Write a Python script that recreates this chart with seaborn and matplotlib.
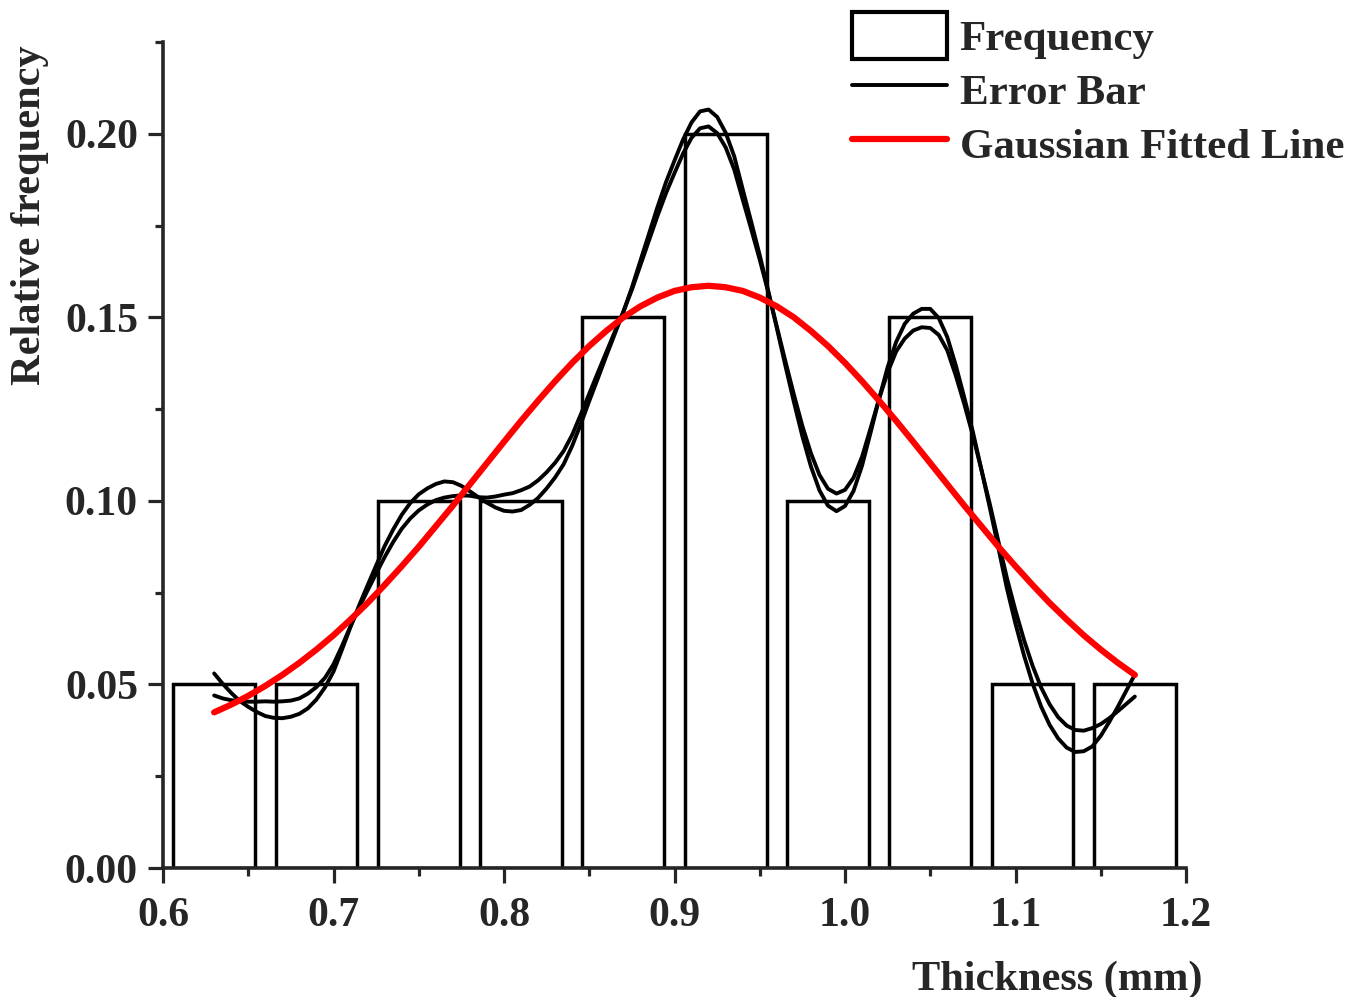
import matplotlib
matplotlib.use("Agg")
import matplotlib.pyplot as plt
import seaborn as sns
import numpy as np

# Histogram of thickness (relative frequency per 0.06 mm bin)
bin_centers = [0.63, 0.69, 0.75, 0.81, 0.87, 0.93, 0.99, 1.05, 1.11, 1.17]
rel_freq = [0.05, 0.05, 0.10, 0.10, 0.15, 0.20, 0.10, 0.15, 0.05, 0.05]

# Smoothed frequency curve, sampled every 0.005 mm from 0.63 to 1.17
fit_x = np.linspace(0.63, 1.17, 109)
fit_mid = [
    0.0500, 0.0482, 0.0467, 0.0455, 0.0446, 0.0439, 0.0434, 0.0431, 0.0431, 0.0434,
    0.0441, 0.0455, 0.0476, 0.0505, 0.0545, 0.0600, 0.0658, 0.0712, 0.0763, 0.0813,
    0.0862, 0.0905, 0.0943, 0.0973, 0.0996, 0.1012, 0.1024, 0.1031, 0.1032, 0.1028,
    0.1020, 0.1010, 0.1002, 0.0997, 0.0995, 0.0996, 0.1002, 0.1014, 0.1032, 0.1056,
    0.1084, 0.1118, 0.1165, 0.1222, 0.1282, 0.1341, 0.1400, 0.1458, 0.1515, 0.1578,
    0.1648, 0.1718, 0.1788, 0.1853, 0.1910, 0.1965, 0.2010, 0.2038, 0.2043, 0.2024,
    0.1983, 0.1921, 0.1835, 0.1750, 0.1663, 0.1570, 0.1473, 0.1375, 0.1280, 0.1190,
    0.1112, 0.1050, 0.1010, 0.0996, 0.1008, 0.1045, 0.1108, 0.1192, 0.1278, 0.1357,
    0.1420, 0.1462, 0.1487, 0.1498, 0.1497, 0.1475, 0.1428, 0.1355, 0.1272, 0.1183,
    0.1085, 0.0985, 0.0880, 0.0775, 0.0683, 0.0600, 0.0527, 0.0466, 0.0418, 0.0382,
    0.0358, 0.0346, 0.0346, 0.0356, 0.0376, 0.0403, 0.0433, 0.0465, 0.0497,
]
# Signed half-spread of the error band around the smoothed curve
fit_dev = [
    0.0030, 0.0020, 0.0010, 0.0000, -0.0007, -0.0014, -0.0020, -0.0022, -0.0023, -0.0022,
    -0.0021, -0.0020, -0.0017, -0.0013, -0.0010, -0.0005, -0.0001, 0.0003, 0.0007, 0.0011,
    0.0015, 0.0017, 0.0019, 0.0021, 0.0022, 0.0022, 0.0022, 0.0022, 0.0019, 0.0013,
    0.0006, 0.0000, -0.0007, -0.0015, -0.0022, -0.0025, -0.0027, -0.0025, -0.0024, -0.0022,
    -0.0020, -0.0018, -0.0015, -0.0013, -0.0010, -0.0008, -0.0005, -0.0003, 0.0000, 0.0003,
    0.0006, 0.0009, 0.0012, 0.0015, 0.0017, 0.0019, 0.0021, 0.0023, 0.0023, 0.0022,
    0.0020, 0.0018, 0.0014, 0.0010, 0.0006, 0.0002, -0.0002, -0.0006, -0.0010, -0.0014,
    -0.0018, -0.0021, -0.0023, -0.0024, -0.0022, -0.0018, -0.0012, -0.0006, 0.0000, 0.0007,
    0.0013, 0.0020, 0.0023, 0.0025, 0.0026, 0.0023, 0.0018, 0.0014, 0.0009, 0.0005,
    0.0000, -0.0005, -0.0009, -0.0014, -0.0018, -0.0021, -0.0024, -0.0026, -0.0028, -0.0029,
    -0.0030, -0.0030, -0.0028, -0.0025, -0.0016, -0.0005, 0.0006, 0.0018, 0.0030,
]

# Gaussian fitted line, sampled every 0.01 mm from 0.63 to 1.17
gauss_x = np.linspace(0.63, 1.17, 55)
gauss_y = [
    0.0424, 0.0445, 0.0469, 0.0496, 0.0526, 0.0559, 0.0595, 0.0634, 0.0677, 0.0722,
    0.0771, 0.0822, 0.0875, 0.0931, 0.0987, 0.1045, 0.1103, 0.1161, 0.1218, 0.1273,
    0.1326, 0.1376, 0.1422, 0.1463, 0.1500, 0.1530, 0.1554, 0.1572, 0.1582, 0.1586,
    0.1582, 0.1572, 0.1554, 0.1530, 0.1500, 0.1463, 0.1422, 0.1376, 0.1326, 0.1273,
    0.1218, 0.1161, 0.1103, 0.1045, 0.0987, 0.0931, 0.0875, 0.0822, 0.0771, 0.0722,
    0.0677, 0.0634, 0.0595, 0.0559, 0.0526,
]

x_ticks = [0.6, 0.7, 0.8, 0.9, 1.0, 1.1, 1.2]
x_tick_labels = ["0.6", "0.7", "0.8", "0.9", "1.0", "1.1", "1.2"]
y_ticks = [0.00, 0.05, 0.10, 0.15, 0.20]
y_tick_labels = ["0.00", "0.05", "0.10", "0.15", "0.20"]

sns.set_style("ticks")
plt.rcParams["font.family"] = ["Liberation Serif", "DejaVu Serif"]
plt.rcParams["font.weight"] = "bold"
plt.rcParams["axes.labelweight"] = "bold"

W, H = 1359, 997
fig = plt.figure(figsize=(W / 100, H / 100), dpi=100)
ax = fig.add_axes([163 / W, 1 - 868 / H, (1186 - 163) / W, (868 - 42) / H])

sns.barplot(x=bin_centers, y=rel_freq, native_scale=True, width=0.8,
            color="white", edgecolor="black", linewidth=2.5, saturation=1,
            errorbar=None, label="Frequency", ax=ax)

mid = np.array(fit_mid)
dev = np.array(fit_dev)
sns.lineplot(x=fit_x, y=mid + dev, color="black", linewidth=2.8, sort=False,
             estimator=None, label="Error Bar", ax=ax)
sns.lineplot(x=fit_x, y=mid - dev, color="black", linewidth=2.8, sort=False,
             estimator=None, legend=False, ax=ax)
sns.lineplot(x=gauss_x, y=gauss_y, color="red", linewidth=4.5, sort=False,
             estimator=None, label="Gaussian Fitted Line", ax=ax)

ax.set_xlim(0.6, 1.2)
ax.set_ylim(0, 0.225)
ax.set_xticks(x_ticks, x_tick_labels)
ax.set_yticks(y_ticks, y_tick_labels)
ax.set_xticks(np.arange(0.65, 1.2, 0.1), minor=True)
ax.set_yticks(np.arange(0.025, 0.226, 0.05), minor=True)

sns.despine(ax=ax)
for side in ("left", "bottom"):
    ax.spines[side].set_linewidth(2.6)
ax.tick_params(which="major", direction="out", length=11, width=2.3,
               labelsize=30, pad=7)
ax.tick_params(axis="x", which="major", pad=10)
ax.tick_params(which="minor", direction="out", length=6, width=2.3)
for lbl in ax.get_xticklabels() + ax.get_yticklabels():
    lbl.set_fontweight("bold")

xl = ax.set_xlabel("Thickness (mm)", fontsize=30.5, fontweight="bold")
xl.set_ha("right")
xl.set_va("center")
ax.xaxis.set_label_coords(1.0166, -0.1355)

yl = ax.set_ylabel("Relative frequency", fontsize=30.5, fontweight="bold")
yl.set_rotation_mode("default")
yl.set_ha("center")
yl.set_va("top")
ax.yaxis.set_label_coords(-0.130, 0.996)

handles, labels = ax.get_legend_handles_labels()
order = ["Frequency", "Error Bar", "Gaussian Fitted Line"]
hmap = dict(zip(labels, handles))
leg = ax.legend([hmap[k] for k in order], order, loc="upper left",
                bbox_to_anchor=(852 / W, 1 - 12 / H), bbox_transform=fig.transFigure,
                frameon=False, prop={"size": 31, "weight": "bold"},
                handlelength=2.2, handleheight=1.3, handletextpad=0.3,
                labelspacing=0.16, borderpad=0, borderaxespad=0)
for h in leg.legend_handles:
    if isinstance(h, matplotlib.patches.Rectangle):
        h.set_linewidth(3.0)

fig.savefig("out.png", dpi=100)
